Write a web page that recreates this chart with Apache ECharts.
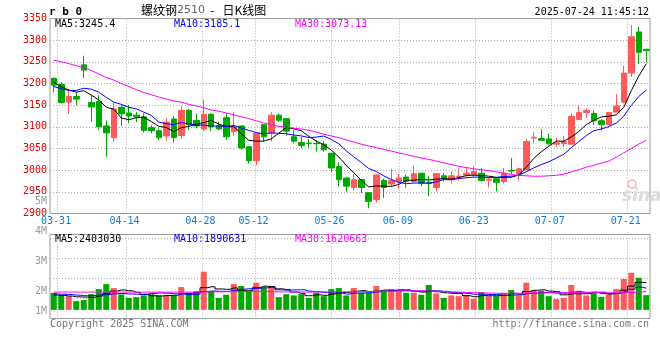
<!DOCTYPE html>
<html><head><meta charset="utf-8">
<script src="https://cdn.jsdelivr.net/npm/echarts@6/dist/echarts.min.js"></script>
<style>html,body{margin:0;padding:0;background:#fff}#c{width:660px;height:360px}</style>
</head><body><div id="c"></div>
<script>
// ---------------- DATA ----------------
const dates = ['03-28','03-31','04-01','04-02','04-03','04-07','04-08','04-09','04-10','04-11',
'04-14','04-15','04-16','04-17','04-18','04-21','04-22','04-23','04-24','04-25',
'04-28','04-29','04-30','05-06','05-07','05-08','05-09','05-12','05-13','05-14',
'05-15','05-16','05-19','05-20','05-21','05-22','05-23','05-26','05-27','05-28',
'05-29','05-30','06-03','06-04','06-05','06-06','06-09','06-10','06-11','06-12',
'06-13','06-16','06-17','06-18','06-19','06-20','06-23','06-24','06-25','06-26',
'06-27','06-30','07-01','07-02','07-03','07-04','07-07','07-08','07-09','07-10',
'07-11','07-14','07-15','07-16','07-17','07-18','07-21','07-22','07-23','07-24'];
const tickLabels = ['03-31','04-14','04-28','05-12','05-26','06-09','06-23','07-07','07-21'];

const opens = [3212,3198,3157,3170,3243,3156,3159,3102,3075,3145,
3132,3127,3123,3098,3091,3079,3118,3080,3138,3115,
3095,3129,3102,3121,3089,3102,3054,3022,3105,3086,
3127,3119,3077,3064,3062.5,3062,3060,3039,3008,2982,
2960,2978,2948,2932,2976,2968,2974,2984,2974,2993,
2972,2960,2987,2978,2985,2989,2989,2993,2977,2980,
2974,2999,2992,3001,3074,3073,3072,3060,3061,3060,
3117,3133,3131,3114,3105,3134,3157,3224,3319,3279];
const highs = [3214,3203,3188,3179,3264,3173,3173,3115,3156,3151,
3150,3134,3131,3104,3096,3120,3125,3148,3141,3131,
3163,3131,3112,3131,3134,3103,3055,3086,3106,3134,
3131,3120,3092,3077,3072,3070,3067,3040,3018,2983,
2991,2979,2949,2990,2980,3003,2991,2990,3010,2994,
2987,2993,2993,2997,3003,3008,3010,3005,2984,2981,
3005,3028,3006,3072,3087,3095,3085,3075,3079,3131,
3150,3142,3138,3118,3134,3176,3241,3335,3331,3280];
const lows = [3180,3154,3130,3150,3212,3112,3093,3031,3066,3102,
3108,3111,3087,3085,3070,3068,3064,3072,3093,3096,
3090,3090,3092,3070,3079,3047,3015,3012,3066,3066,
3112,3080,3062,3051,3052,3043,3043,2996,2963,2950,
2953,2947,2912,2925,2936,2963,2957,2959,2970,2963,
2940,2951,2974,2969,2976,2982,2985,2974,2960,2951,
2969,2991,2976,3000,3062,3067,3057,3054,3054,3059,
3116,3121,3104,3092,3104,3133,3154,3215,3245,3249];
const closes = [3196,3156,3170,3164,3231,3146,3100,3086,3141,3130,
3125,3123,3092,3091,3075,3111,3075,3138,3105,3102,
3129,3100,3095,3077,3100,3051,3022,3085,3077,3127,
3115,3090,3067,3057,3061.5,3061,3047,3005,2978,2963,
2978,2960,2928,2989,2960,2976,2982,2974,2992,2969,
2969,2992,2980,2987,2986,2993,2997,2976,2979,2972,
2993,2998,3003,3066,3076,3069,3061,3063,3066,3124,
3133,3138,3114,3105,3133,3148,3224,3308,3272,3276];

const ma5 = [3203,3192,3185,3180,3183.4,3173.4,3162.2,3145.4,3140.8,3120.6,
3116.4,3121,3122.2,3112.2,3101.2,3098.4,3088.8,3098,3100.8,3106.2,
3109.8,3114.8,3106.2,3100.6,3100.2,3084.6,3069,3067,3067,3072.4,
3085.2,3098.8,3095.2,3091.2,3078.1,3067.3,3058.7,3046.3,3030.5,3010.8,
2994.2,2976.8,2961.4,2963.6,2963,2962.6,2967,2976.2,2976.8,2978.6,
2977.2,2979.2,2980.4,2979.4,2982.8,2987.6,2988.6,2987.8,2986.2,2983.4,
2983.4,2983.6,2989,3006.4,3027.2,3042.4,3055,3067,3067,3076.6,
3089.4,3104.8,3115,3122.8,3124.6,3127.6,3144.8,3183.6,3217,3245.6];
const ma10 = [3193,3188,3184,3184,3189,3187,3180,3168,3157,3152,
3144.9,3141.6,3133.8,3126.5,3110.9,3107.4,3104.9,3110.1,3106.5,3103.7,
3104.1,3101.8,3102.1,3100.7,3103.2,3097.2,3091.9,3086.6,3083.8,3086.3,
3084.9,3083.9,3081.1,3079.1,3075.3,3076.3,3078.8,3070.8,3060.9,3044.5,
3030.8,3017.8,3003.9,2997.1,2986.9,2978.4,2971.9,2968.8,2970.2,2970.8,
2969.9,2973.1,2978.3,2978.1,2980.7,2982.4,2983.9,2984.1,2982.8,2983.1,
2985.5,2986.1,2988.4,2996.3,3005.3,3012.9,3019.3,3028,3036.7,3051.9,
3065.9,3079.9,3091,3094.9,3100.6,3108.5,3124.8,3149.3,3169.9,3185.1];
const ma30 = [3254,3250,3246,3241,3237,3230,3222,3214,3208,3200,
3193,3186,3179,3174,3169,3164,3160,3157,3152,3148,
3144,3139,3136,3132,3128,3123,3119,3114,3109,3105,
3101,3099,3097,3095,3092,3088,3083,3079,3075,3070,
3065,3060,3056,3052,3048,3044,3040,3036,3032,3028,
3025,3021,3017,3013,3009,3006,3003,3001,2999,2996,
2993,2990,2988,2987,2986,2986,2987,2988,2991,2996,
3001,3007,3011,3016,3021,3030,3040,3050,3060,3069];

const volumes = [1500000,1300000,1210000,770000,860000,1390000,1830000,2270000,1920000,1360000,
1060000,1120000,1270000,1390000,1270000,1240000,1240000,2010000,1500000,1650000,
3360000,1650000,1060000,1330000,2270000,2100000,1680000,2390000,1980000,2100000,
1120000,1390000,1270000,1390000,1060000,1500000,1210000,1830000,1920000,1270000,
1920000,1500000,1500000,2100000,1680000,1830000,1680000,1500000,1500000,1330000,
2190000,1450000,1060000,1270000,1210000,1270000,970000,1570000,1210000,1210000,
1480000,1740000,1270000,2390000,1740000,1680000,1210000,950000,1040000,2190000,
1680000,1270000,1500000,1150000,1500000,1830000,2720000,3270000,2830000,1300000];
const volMa5 = [1300000,1280000,1220000,1150000,1128000,1106000,1212000,1424000,1654000,1754000,
1688000,1546000,1346000,1240000,1222000,1258000,1282000,1430000,1452000,1528000,
1952000,2034000,1844000,1810000,1934000,1682000,1688000,1954000,2084000,2050000,
1854000,1796000,1572000,1454000,1246000,1322000,1286000,1398000,1504000,1546000,
1630000,1688000,1622000,1658000,1740000,1722000,1758000,1758000,1638000,1568000,
1640000,1594000,1506000,1460000,1436000,1252000,1156000,1258000,1246000,1246000,
1288000,1442000,1382000,1618000,1724000,1764000,1658000,1594000,1324000,1414000,
1414000,1426000,1536000,1558000,1420000,1450000,1740000,2094000,2430000,2390000];
const volMa10 = [1400000,1380000,1350000,1300000,1250000,1250000,1300000,1360000,1420000,1441000,
1397000,1379000,1385000,1447000,1488000,1473000,1414000,1388000,1346000,1375000,
1605000,1658000,1637000,1631000,1731000,1817000,1861000,1899000,1947000,1992000,
1768000,1742000,1763000,1769000,1648000,1588000,1541000,1485000,1479000,1396000,
1476000,1487000,1510000,1581000,1643000,1676000,1723000,1690000,1648000,1654000,
1681000,1676000,1632000,1549000,1502000,1446000,1375000,1382000,1353000,1341000,
1270000,1299000,1320000,1432000,1485000,1526000,1550000,1488000,1471000,1569000,
1589000,1542000,1565000,1441000,1417000,1432000,1583000,1817000,1996000,1907000];
const volMa30 = [1570000,1570000,1570000,1570000,1570000,1570000,1570000,1570000,1570000,1570000,
1560000,1560000,1560000,1560000,1560000,1560000,1560000,1560000,1560000,1560000,
1580000,1590000,1590000,1600000,1610000,1620000,1620000,1630000,1630000,1600000,
1590000,1580000,1580000,1580000,1570000,1580000,1580000,1590000,1590000,1590000,
1600000,1610000,1620000,1630000,1640000,1650000,1660000,1670000,1670000,1680000,
1660000,1640000,1610000,1580000,1560000,1530000,1510000,1490000,1480000,1460000,
1460000,1470000,1470000,1480000,1490000,1500000,1500000,1500000,1510000,1520000,
1520000,1520000,1520000,1510000,1510000,1510000,1520000,1550000,1580000,1620000];

const legendPrice = ['MA5:3245.4','MA10:3185.1','MA30:3073.13'];
const legendVol = ['MA5:2403030','MA10:1890631','MA30:1620663'];
const volAxisLabels = ['5M','4M','3M','2M','1M'];

// ---------------- STYLE / LAYOUT ----------------
const UP = '#ff5a5a', DOWN = '#00a800';
const MA_COLORS = ['#000000', '#0000ff', '#ff00ff'];
const MONO = '"DejaVu Sans Mono", "Liberation Mono", monospace';
const GRID_LINE = {color: '#aaaaaa', type: [1, 2], width: 1};
const legendX = [55, 174, 295];
const volLabelY = [201, 231, 261, 291, 311];

const labelIdx = tickLabels.map(t => dates.indexOf(t));
const isLabel = (i) => labelIdx.indexOf(i) >= 0;

const candleData = dates.map((d, i) => [opens[i], closes[i], lows[i], highs[i]]);
const volData = volumes.map((v, i) => ({
  value: v,
  itemStyle: {color: closes[i] >= opens[i] ? UP : DOWN}
}));

const chart = echarts.init(document.getElementById('c'), null, {renderer: 'canvas', width: 660, height: 360});

function hiddenCat(grid) {
  return {type: 'category', gridIndex: grid, data: dates, boundaryGap: true,
    axisLine: {show: false}, axisTick: {show: false}, axisLabel: {show: false}, splitLine: {show: false}};
}
function gridCat(grid, labels) {
  return {type: 'category', gridIndex: grid, data: dates, boundaryGap: false, position: 'bottom',
    axisLine: {show: false}, axisTick: {show: false},
    axisLabel: {show: labels, interval: (i) => isLabel(i), color: '#0a7fe0', fontFamily: MONO, fontSize: 10,
      margin: 3, padding: [0, 3, 0, 0]},
    splitLine: {show: true, interval: (i) => isLabel(i), lineStyle: GRID_LINE}};
}

const graphics = [];
function txt(text, x, y, fill, opts) {
  graphics.push(Object.assign({type: 'text', silent: true, z: 100,
    style: Object.assign({text: text, x: x, y: y, fill: fill, font: '10px ' + MONO,
      textAlign: 'left', textVerticalAlign: 'middle'}, opts || {})}));
}
legendPrice.forEach((t, k) => txt(t, legendX[k], 24, MA_COLORS[k]));
legendVol.forEach((t, k) => txt(t, legendX[k], 239, MA_COLORS[k]));
volAxisLabels.forEach((t, k) => txt(t, 47, volLabelY[k], '#9a9a9a', {textAlign: 'right'}));
txt('r b 0', 49, 12, '#000', {font: 'bold 11px ' + MONO});
graphics.push({type: 'text', silent: true, z: 100, style: {
  text: '{a|螺纹钢}{b|2510}{a|  -   日K线图}', x: 141, y: 10, textVerticalAlign: 'middle',
  rich: {a: {fontFamily: '"Noto Sans CJK SC"', fontSize: 12, fill: '#000'},
         b: {fontFamily: '"DejaVu Sans"', fontSize: 11, fill: '#666'}}}});
txt('2025-07-24 11:45:12', 649, 12, '#000', {textAlign: 'right'});
txt('Copyright 2025 SINA.COM', 50, 324, '#777');
txt('http://finance.sina.com.cn', 649, 324, '#777', {textAlign: 'right'});
graphics.push({type: 'text', silent: true, z: 1, style: {text: 'sina', x: 622, y: 197, fill: '#dcdcdc',
  font: 'italic bold 17px "DejaVu Sans"', textVerticalAlign: 'middle'}});
graphics.push({type: 'circle', silent: true, z: 1, shape: {cx: 632, cy: 184, r: 4},
  style: {fill: 'none', stroke: '#f0c8c8', lineWidth: 2}});

const lineSeries = (name, data, color, xi, yi, step) => ({
  name: name, type: 'line', xAxisIndex: xi, yAxisIndex: yi, data: data, showSymbol: false,
  symbol: 'none', step: step || false, animation: false, silent: true,
  lineStyle: {color: color, width: 1}, z: 5
});

const option = {
  animation: false,
  backgroundColor: '#ffffff',
  grid: [
    {left: 50, right: 10, top: 18.5, height: 195, show: true, borderColor: '#999', borderWidth: 1},
    {left: 50, right: 10, top: 234.5, height: 84, show: true, borderColor: '#999', borderWidth: 1}
  ],
  xAxis: [hiddenCat(0), gridCat(0, true), hiddenCat(1), gridCat(1, false)],
  yAxis: [
    {type: 'value', gridIndex: 0, min: 2900, max: 3350, interval: 50, position: 'left',
      axisLine: {show: false}, axisTick: {show: false},
      axisLabel: {color: '#e00000', fontFamily: MONO, fontSize: 10, margin: 3, padding: [0, 0, 5, 0],
        formatter: (v) => String(v)},
      splitLine: {show: true, lineStyle: GRID_LINE}},
    {type: 'value', gridIndex: 1, min: -760000, max: 6640000, show: false},
    {type: 'value', gridIndex: 1, min: -0.165, max: 4.035, interval: 1, position: 'right',
      axisLine: {show: false}, axisTick: {show: false}, axisLabel: {show: false},
      splitLine: {show: true, lineStyle: GRID_LINE}}
  ],
  series: [
    {type: 'candlestick', xAxisIndex: 0, yAxisIndex: 0, data: candleData, barWidth: 6, z: 3,
      itemStyle: {color: UP, color0: DOWN, borderColor: UP, borderColor0: DOWN, borderWidth: 1}},
    lineSeries('MA5', ma5, MA_COLORS[0], 0, 0),
    lineSeries('MA10', ma10, MA_COLORS[1], 0, 0),
    lineSeries('MA30', ma30, MA_COLORS[2], 0, 0),
    {type: 'bar', xAxisIndex: 2, yAxisIndex: 1, data: volData, barWidth: 6, z: 3, silent: true},
    lineSeries('VMA5', volMa5, MA_COLORS[0], 2, 1, 'middle'),
    lineSeries('VMA10', volMa10, MA_COLORS[1], 2, 1, 'middle'),
    lineSeries('VMA30', volMa30, MA_COLORS[2], 2, 1, 'middle')
  ],
  graphic: graphics
};
chart.setOption(option);
</script>
</body></html>
